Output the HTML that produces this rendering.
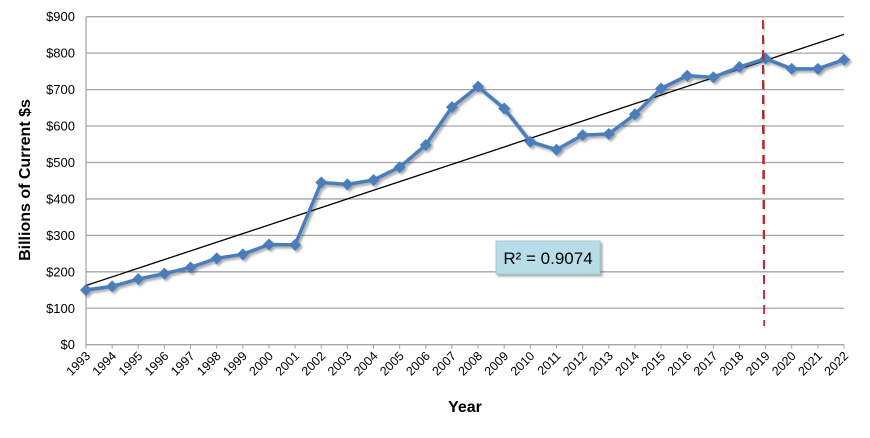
<!DOCTYPE html>
<html><head><meta charset="utf-8"><style>
body{margin:0;background:#fff;font-family:"Liberation Sans",sans-serif}
</style></head><body>
<svg width="870" height="433" xmlns="http://www.w3.org/2000/svg">
<defs><filter id="sh" x="-5%" y="-5%" width="110%" height="120%"><feDropShadow dx="2" dy="2" stdDeviation="1.2" flood-color="#000" flood-opacity="0.35"/></filter></defs>
<g id="grid"></g><g id="axes"></g><g id="trend"></g><g id="series"></g><g id="extra"></g>
</svg>
<script>
const years=[1993,1994,1995,1996,1997,1998,1999,2000,2001,2002,2003,2004,2005,2006,2007,2008,2009,2010,2011,2012,2013,2014,2015,2016,2017,2018,2019,2020,2021,2022];
const values=[150,160,180,195,212,237,248,275,274,445,440,452,487,548,652,708,648,557,535,575,578,632,703,738,734,762,785,757,757,782];
const yTicks=[0,100,200,300,400,500,600,700,800,900];
const markerYear=2019;
const r2Label="R² = 0.9074";
const NS="http://www.w3.org/2000/svg";
const L=86,R=844,T=16.7,B=344.7;
const xS=i=>L+i*(R-L)/(years.length-1);
const yS=v=>B-v/900*(B-T);
function mk(t,a,p){const e=document.createElementNS(NS,t);for(const k in a)e.setAttribute(k,a[k]);p.appendChild(e);return e;}
const grid=document.getElementById('grid'),axes=document.getElementById('axes');
yTicks.forEach(v=>{
 if(v>0){const g=mk('line',{x1:L,x2:R,y1:yS(v),y2:yS(v),stroke:'#a6a6a6','stroke-width':1.3},grid);
 
 }
 const t=mk('text',{x:L-11,y:yS(v)+4.5,'text-anchor':'end','font-size':13,fill:'#000'},axes);t.textContent='$'+v;
 
 
});
const ax=mk('path',{d:`M${L} ${T}V${B}H${R}`,fill:'none',stroke:'#a6a6a6','stroke-width':1.3},axes);


years.forEach((y,i)=>{
 const x=xS(i);
 mk('line',{x1:x,x2:x,y1:B,y2:B+4,stroke:'#a6a6a6'},axes);
 const t=mk('text',{transform:`translate(${x+5},${B+12}) rotate(-45)`,'text-anchor':'end','font-size':12.5,fill:'#000'},axes);t.textContent=y;
 
 
});
const yt=mk('text',{transform:'translate(30,180) rotate(-90)','text-anchor':'middle','font-size':16,'font-weight':'bold'},axes);yt.textContent='Billions of Current $s';


const xt=mk('text',{x:465,y:412,'text-anchor':'middle','font-size':16,'font-weight':'bold'},axes);xt.textContent='Year';


const n=values.length;let sx=0,sy=0,sxx=0,sxy=0;values.forEach((v,i)=>{sx+=i;sy+=v;sxx+=i*i;sxy+=i*v;});
const b=(n*sxy-sx*sy)/(n*sxx-sx*sx),a=(sy-b*sx)/n;
const tl=mk('line',{x1:xS(0),y1:yS(a),x2:xS(n-1),y2:yS(a+b*(n-1)),stroke:'#000','stroke-width':1.3},document.getElementById('trend'));


const s=document.getElementById('series');
const g=mk('g',{filter:'url(#sh)'},s);
const pl=mk('polyline',{points:values.map((v,i)=>xS(i)+','+yS(v)).join(' '),fill:'none',stroke:'#4a7ebb','stroke-width':3.5,'stroke-linejoin':'round'},g);


values.forEach((v,i)=>{const x=xS(i),y=yS(v);
 const p=mk('path',{d:`M${x} ${y-6}L${x+6} ${y}L${x} ${y+6}L${x-6} ${y}Z`,fill:'#4a7ebb'},g);
 
 
});
const ex=document.getElementById('extra');
const mx=xS(years.indexOf(markerYear))-2;
const ml=mk('line',{x1:mx-1,y1:20,x2:mx+1,y2:326,stroke:'#c0282d','stroke-width':2.5,'stroke-dasharray':'9,6',filter:'url(#sh)'},ex);


const bx=mk('rect',{x:496,y:241,width:104,height:33,fill:'#b7dde8',stroke:'#a5c8d4',filter:'url(#sh)'},ex);


const rt=mk('text',{x:548,y:264,'text-anchor':'middle','font-size':17,fill:'#000'},ex);rt.textContent=r2Label;


</script>
</body></html>
